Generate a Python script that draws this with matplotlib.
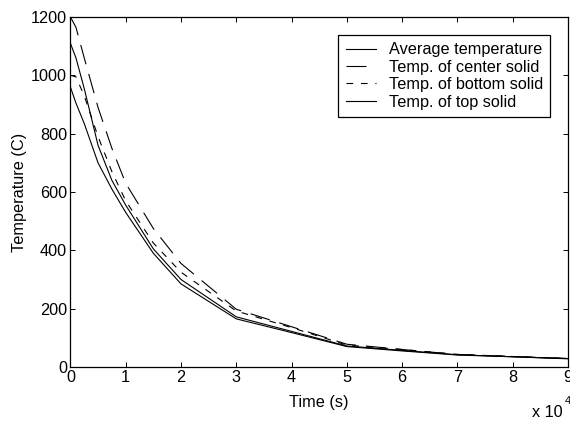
import matplotlib
matplotlib.use("Agg")
import matplotlib.pyplot as plt

plt.rcParams['font.family'] = ['Liberation Sans', 'DejaVu Sans']

# time in seconds
t_avg = [0, 1000, 2500, 5000, 7500, 10000, 15000, 20000, 30000, 40000, 50000, 60000, 70000, 80000, 90000]
avg_temp = [960, 905, 835, 700, 610, 530, 390, 285, 165, 118, 70, 55, 41, 35, 28]

t_center = [0, 1000, 2500, 5000, 7500, 10000, 15000, 20000, 30000, 40000, 50000, 60000, 70000, 80000, 90000]
center_temp = [1200, 1165, 1060, 890, 750, 630, 475, 355, 198, 138, 78, 60, 43, 36, 29]

t_bottom = [0, 1000, 2500, 5000, 7500, 10000, 15000, 20000, 30000, 40000, 50000, 60000, 70000, 80000, 90000]
bottom_temp = [1000, 995, 930, 790, 670, 570, 425, 325, 192, 135, 75, 60, 43, 36, 29]

t_top = [0, 1000, 2500, 5000, 7500, 10000, 15000, 20000, 30000, 40000, 50000, 60000, 70000, 80000, 90000]
top_temp = [1110, 1060, 955, 760, 640, 555, 405, 300, 172, 122, 72, 57, 42, 35, 29]

xticks = [0, 10000, 20000, 30000, 40000, 50000, 60000, 70000, 80000, 90000]
xtick_labels = ['0', '1', '2', '3', '4', '5', '6', '7', '8', '9']
yticks = [0, 200, 400, 600, 800, 1000, 1200]

fs = 11.7

fig = plt.figure(figsize=(5.7, 4.21), dpi=100)
ax = fig.add_axes([0.1235, 0.1283, 0.873, 0.8313])

lw = 0.8
ax.plot(t_avg, avg_temp, 'k-', lw=lw, label='Average temperature')
ax.plot(t_center, center_temp, 'k', lw=lw, dashes=[18, 9], label='Temp. of center solid')
ax.plot(t_bottom, bottom_temp, 'k', lw=lw, dashes=[6, 7], label='Temp. of bottom solid')
ax.plot(t_top, top_temp, 'k-', lw=lw, label='Temp. of top solid')

ax.set_xlim(0, 90000)
ax.set_ylim(0, 1200)
ax.set_xticks(xticks)
ax.set_xticklabels(xtick_labels)
ax.set_yticks(yticks)
ax.tick_params(direction='in', top=True, right=True, length=3.6, width=0.7,
               labelsize=fs, pad=2.5)
for s in ax.spines.values():
    s.set_linewidth(0.9)

ax.set_xlabel('Time (s)', fontsize=fs, labelpad=7)
ax.set_ylabel('Temperature (C)', fontsize=fs, labelpad=3)

leg = ax.legend(loc='upper right', fontsize=fs, frameon=True, fancybox=False,
                edgecolor='black', framealpha=1, handlelength=1.9,
                borderaxespad=1.1, labelspacing=0.15, borderpad=0.45, handletextpad=0.75)
leg.get_frame().set_linewidth(0.9)

fig.text(0.933, 0.01, 'x 10', fontsize=fs)
fig.text(0.99, 0.04, '4', fontsize=8)

fig.savefig('out.png', dpi=100)
